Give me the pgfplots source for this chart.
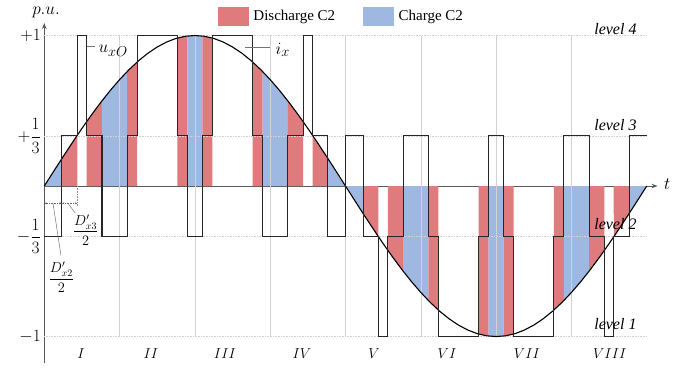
\documentclass[border=0pt]{standalone}
\usepackage{fontspec}
\setmainfont{Liberation Serif}
\usepackage{amsmath}
\usepackage{pgfplots}
\pgfplotsset{compat=1.18}
\usepgfplotslibrary{fillbetween}
\usetikzlibrary{arrows.meta}
\definecolor{redC}{RGB}{224,123,125}
\definecolor{blueC}{RGB}{158,184,226}
\definecolor{gridC}{RGB}{210,210,210}
\begin{document}
\begin{tikzpicture}
\begin{axis}[
 scale only axis, width=613.2pt, height=340pt,
 xmin=0, xmax=8.143, ymin=-1.176, ymax=1.083,
 axis x line=middle, axis y line=middle,
 axis line style={black!65, line width=0.8pt, -{Stealth[length=6pt,width=4.5pt]}},
 xtick=\empty,
 ytick={-1,-0.33333,0.33333,1},
 yticklabels={$-1$,$-\dfrac{1}{3}$,$+\dfrac{1}{3}$,$+1$},
 yticklabel style={font=\fontsize{17}{20}\selectfont},
 major tick length=0pt,
 clip=false,
 legend style={at={(0.4847,1.0206)}, anchor=center, draw=none, fill=none,
   legend columns=2, font=\fontsize{15}{17}\selectfont,
   /tikz/every odd column/.append style={column sep=3pt},
   /tikz/every even column/.append style={column sep=26pt}},
 legend cell align=left,
]
\addlegendimage{legend image code/.code={\fill[redC] (0pt,-9pt) rectangle (30pt,9pt);}}
\addlegendentry{Discharge C2}
\addlegendimage{legend image code/.code={\fill[blueC] (0pt,-9pt) rectangle (30pt,9pt);}}
\addlegendentry{Charge C2}

% grid
\addplot[gridC, densely dotted, line width=0.6pt, forget plot] coordinates {(0,1) (8,1)};
\addplot[gridC, densely dotted, line width=0.6pt, forget plot] coordinates {(0,0.33333) (8,0.33333)};
\addplot[gridC, densely dotted, line width=0.6pt, forget plot] coordinates {(0,-0.33333) (8,-0.33333)};
\addplot[gridC, densely dotted, line width=0.6pt, forget plot] coordinates {(0,-1) (8,-1)};
\pgfplotsinvokeforeach{1,2,3,4,5,6,7}{
 \addplot[gridC, line width=0.5pt, forget plot] coordinates {(#1,-1) (#1,1)};
}

% current i_x (path for fills)
\addplot[draw=none, name path=ix, forget plot] coordinates {
(0,0) (0.125,0.0980) (0.25,0.1951) (0.375,0.2903) (0.5,0.3827) (0.625,0.4714) (0.75,0.5556) (0.875,0.6344)
(1,0.7071) (1.125,0.7730) (1.25,0.8315) (1.375,0.8819) (1.5,0.9239) (1.625,0.9569) (1.75,0.9808) (1.875,0.9952)
(2,1) (2.125,0.9952) (2.25,0.9808) (2.375,0.9569) (2.5,0.9239) (2.625,0.8819) (2.75,0.8315) (2.875,0.7730)
(3,0.7071) (3.125,0.6344) (3.25,0.5556) (3.375,0.4714) (3.5,0.3827) (3.625,0.2903) (3.75,0.1951) (3.875,0.0980)
(4,0) (4.125,-0.0980) (4.25,-0.1951) (4.375,-0.2903) (4.5,-0.3827) (4.625,-0.4714) (4.75,-0.5556) (4.875,-0.6344)
(5,-0.7071) (5.125,-0.7730) (5.25,-0.8315) (5.375,-0.8819) (5.5,-0.9239) (5.625,-0.9569) (5.75,-0.9808) (5.875,-0.9952)
(6,-1) (6.125,-0.9952) (6.25,-0.9808) (6.375,-0.9569) (6.5,-0.9239) (6.625,-0.8819) (6.75,-0.8315) (6.875,-0.7730)
(7,-0.7071) (7.125,-0.6344) (7.25,-0.5556) (7.375,-0.4714) (7.5,-0.3827) (7.625,-0.2903) (7.75,-0.1951) (7.875,-0.0980)
(8,0)};
\addplot[draw=none, name path=zero, forget plot] coordinates {(0,0) (8,0)};

% charge / discharge strips
\addplot[blueC, forget plot] fill between[of=ix and zero, soft clip={domain=0:0.234}];
\addplot[redC, forget plot] fill between[of=ix and zero, soft clip={domain=0.234:0.438}];
\addplot[redC, forget plot] fill between[of=ix and zero, soft clip={domain=0.562:0.766}];
\addplot[blueC, forget plot] fill between[of=ix and zero, soft clip={domain=0.766:1.1}];
\addplot[redC, forget plot] fill between[of=ix and zero, soft clip={domain=1.1:1.233}];
\addplot[redC, forget plot] fill between[of=ix and zero, soft clip={domain=1.767:1.9}];
\addplot[blueC, forget plot] fill between[of=ix and zero, soft clip={domain=1.9:2.1}];
\addplot[redC, forget plot] fill between[of=ix and zero, soft clip={domain=2.1:2.233}];
\addplot[redC, forget plot] fill between[of=ix and zero, soft clip={domain=2.767:2.9}];
\addplot[blueC, forget plot] fill between[of=ix and zero, soft clip={domain=2.9:3.234}];
\addplot[redC, forget plot] fill between[of=ix and zero, soft clip={domain=3.234:3.438}];
\addplot[redC, forget plot] fill between[of=ix and zero, soft clip={domain=3.562:3.766}];
\addplot[blueC, forget plot] fill between[of=ix and zero, soft clip={domain=3.766:4}];
\addplot[blueC, forget plot] fill between[of=ix and zero, soft clip={domain=4:4.234}];
\addplot[redC, forget plot] fill between[of=ix and zero, soft clip={domain=4.234:4.438}];
\addplot[redC, forget plot] fill between[of=ix and zero, soft clip={domain=4.562:4.766}];
\addplot[blueC, forget plot] fill between[of=ix and zero, soft clip={domain=4.766:5.1}];
\addplot[redC, forget plot] fill between[of=ix and zero, soft clip={domain=5.1:5.233}];
\addplot[redC, forget plot] fill between[of=ix and zero, soft clip={domain=5.767:5.9}];
\addplot[blueC, forget plot] fill between[of=ix and zero, soft clip={domain=5.9:6.1}];
\addplot[redC, forget plot] fill between[of=ix and zero, soft clip={domain=6.1:6.233}];
\addplot[redC, forget plot] fill between[of=ix and zero, soft clip={domain=6.767:6.9}];
\addplot[blueC, forget plot] fill between[of=ix and zero, soft clip={domain=6.9:7.234}];
\addplot[redC, forget plot] fill between[of=ix and zero, soft clip={domain=7.234:7.438}];
\addplot[redC, forget plot] fill between[of=ix and zero, soft clip={domain=7.562:7.766}];
\addplot[blueC, forget plot] fill between[of=ix and zero, soft clip={domain=7.766:8}];

% visible current curve
\addplot[black, line width=1.1pt, forget plot] coordinates {
(0,0) (0.125,0.0980) (0.25,0.1951) (0.375,0.2903) (0.5,0.3827) (0.625,0.4714) (0.75,0.5556) (0.875,0.6344)
(1,0.7071) (1.125,0.7730) (1.25,0.8315) (1.375,0.8819) (1.5,0.9239) (1.625,0.9569) (1.75,0.9808) (1.875,0.9952)
(2,1) (2.125,0.9952) (2.25,0.9808) (2.375,0.9569) (2.5,0.9239) (2.625,0.8819) (2.75,0.8315) (2.875,0.7730)
(3,0.7071) (3.125,0.6344) (3.25,0.5556) (3.375,0.4714) (3.5,0.3827) (3.625,0.2903) (3.75,0.1951) (3.875,0.0980)
(4,0) (4.125,-0.0980) (4.25,-0.1951) (4.375,-0.2903) (4.5,-0.3827) (4.625,-0.4714) (4.75,-0.5556) (4.875,-0.6344)
(5,-0.7071) (5.125,-0.7730) (5.25,-0.8315) (5.375,-0.8819) (5.5,-0.9239) (5.625,-0.9569) (5.75,-0.9808) (5.875,-0.9952)
(6,-1) (6.125,-0.9952) (6.25,-0.9808) (6.375,-0.9569) (6.5,-0.9239) (6.625,-0.8819) (6.75,-0.8315) (6.875,-0.7730)
(7,-0.7071) (7.125,-0.6344) (7.25,-0.5556) (7.375,-0.4714) (7.5,-0.3827) (7.625,-0.2903) (7.75,-0.1951) (7.875,-0.0980)
(8,0)};

% output voltage u_xO (4-level PWM)
\addplot[const plot, black!85, line width=1.1pt, forget plot] coordinates {
(0,-0.33333) (0.234,0.33333) (0.438,1) (0.562,0.33333) (0.766,-0.33333)
(1.1,0.33333) (1.233,1) (1.767,0.33333) (1.9,-0.33333)
(2.1,0.33333) (2.233,1) (2.767,0.33333) (2.9,-0.33333)
(3.234,0.33333) (3.438,1) (3.562,0.33333) (3.766,-0.33333)
(4,0.33333) (4.234,-0.33333) (4.438,-1) (4.562,-0.33333) (4.766,0.33333)
(5.1,-0.33333) (5.233,-1) (5.767,-0.33333) (5.9,0.33333)
(6.1,-0.33333) (6.233,-1) (6.767,-0.33333) (6.9,0.33333)
(7.234,-0.33333) (7.438,-1) (7.562,-0.33333) (7.766,0.33333) (8,0.33333)};

% leader lines
\addplot[black!55, line width=0.6pt, forget plot] coordinates {(0.568,0.9256) (0.674,0.9256)};
\addplot[black!55, line width=0.6pt, forget plot] coordinates {(2.668,0.922) (3.0,0.922)};
% duty-cycle dimensions
\addplot[black!60, densely dotted, line width=0.6pt, {Stealth[length=2.5pt,width=2pt]}-{Stealth[length=2.5pt,width=2pt]}, forget plot] coordinates {(0,-0.115) (0.234,-0.115)};
\addplot[black!60, densely dotted, line width=0.6pt, {Stealth[length=2.5pt,width=2pt]}-{Stealth[length=2.5pt,width=2pt]}, forget plot] coordinates {(0.234,-0.115) (0.438,-0.115)};
\addplot[black!45, densely dotted, line width=0.6pt, forget plot] coordinates {(0.438,0) (0.438,-0.13)};
\addplot[black!55, line width=0.5pt, forget plot] coordinates {(0.315,-0.115) (0.41,-0.179)};
\addplot[black!55, line width=0.5pt, forget plot] coordinates {(0.116,-0.115) (0.222,-0.462)};

% labels
\node[anchor=base west, font=\fontsize{19}{21}\selectfont] at (axis cs:0.674,0.884) {$u_{xO}$};
\node[anchor=base west, font=\fontsize{19}{21}\selectfont] at (axis cs:3.024,0.877) {$i_{x}$};
\node[font=\fontsize{14}{16}\selectfont] at (axis cs:0.55,-0.292) {$\dfrac{D'_{x3}}{2}$};
\node[font=\fontsize{14}{16}\selectfont] at (axis cs:0.228,-0.605) {$\dfrac{D'_{x2}}{2}$};
\node[font=\fontsize{17}{20}\selectfont] at (axis cs:0.023,1.15) {$p.u.$};
\node[font=\fontsize{18}{20}\selectfont] at (axis cs:8.27,0.015) {$t$};

\node[anchor=east, font=\itshape\fontsize{16}{18}\selectfont] at (axis cs:7.911,1.043) {level 4};
\node[anchor=east, font=\itshape\fontsize{16}{18}\selectfont] at (axis cs:7.911,0.405) {level 3};
\node[anchor=east, font=\itshape\fontsize{16}{18}\selectfont] at (axis cs:7.911,-0.2525) {level 2};
\node[anchor=east, font=\itshape\fontsize{16}{18}\selectfont] at (axis cs:7.911,-0.917) {level 1};

\node[font=\fontsize{14}{16}\selectfont] at (axis cs:0.487,-1.11) {$I$};
\node[font=\fontsize{14}{16}\selectfont] at (axis cs:1.417,-1.11) {$II$};
\node[font=\fontsize{14}{16}\selectfont] at (axis cs:2.4,-1.11) {$III$};
\node[font=\fontsize{14}{16}\selectfont] at (axis cs:3.422,-1.11) {$IV$};
\node[font=\fontsize{14}{16}\selectfont] at (axis cs:4.38,-1.11) {$V$};
\node[font=\fontsize{14}{16}\selectfont] at (axis cs:5.348,-1.11) {$VI$};
\node[font=\fontsize{14}{16}\selectfont] at (axis cs:6.41,-1.11) {$VII$};
\node[font=\fontsize{14}{16}\selectfont] at (axis cs:7.51,-1.11) {$VIII$};

\coordinate (bl) at (axis cs:-0.588,-1.209);
\coordinate (tr) at (axis cs:8.548,1.236);
\end{axis}
\pgfresetboundingbox
\path[use as bounding box] (bl) rectangle (tr);
\end{tikzpicture}
\end{document}
